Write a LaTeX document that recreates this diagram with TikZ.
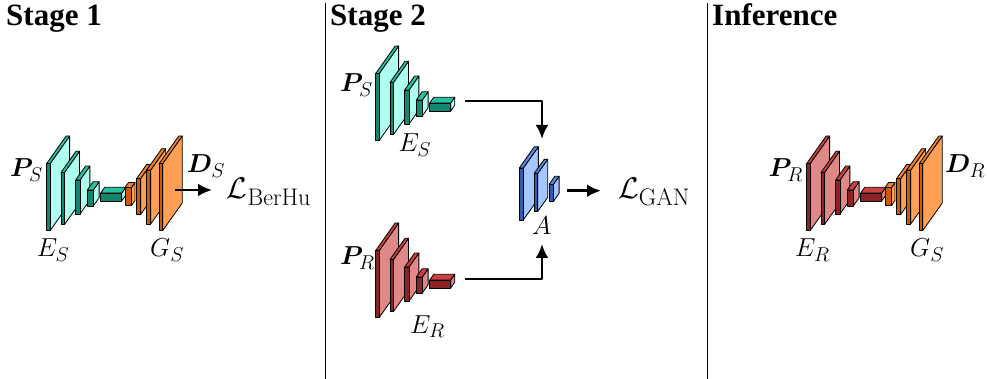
\RequirePackage{fix-cm}
\documentclass[tikz,border=0pt]{standalone}
\usepackage[no-math]{fontspec}
\usepackage{bm}
\usetikzlibrary{arrows.meta}

\newfontfamily\headfont{Liberation Serif}
\DeclareMathSizes{26}{26}{20}{15}
\DeclareMathSizes{30}{30}{24}{18}

% one feature map: x, y centre, width, height, depth, colour prefix
\newcommand{\fmap}[6]{%
  \filldraw[box, fill=#6Light] (#1+#3,#2-#4/2) -- ++(0,#4) -- ++(0.29*#5,-0.41*#5) -- ++(0,-#4) -- cycle;
  \filldraw[box, fill=#6Mid] (#1,#2-#4/2) -- ++(#3,0) -- ++(0.29*#5,-0.41*#5) -- ++(-#3,0) -- cycle;
  \filldraw[box, fill=#6Dark] (#1,#2-#4/2) rectangle ++(#3,#4);
}
% encoder and decoder stacks
\newcommand{\encoder}[1]{%
  \foreach \x/\yc/\w/\h/\d in {46.7/197/3.5/67/67, 61/198.5/3.5/52/52, 75.7/197/4.3/34/34,
                               87.3/198/6/16/20, 100.7/197/21/8/14}
    {\fmap{\x}{\yc}{\w}{\h}{\d}{#1}}
}
\newcommand{\decoder}[1]{%
  \foreach \x/\yc/\w/\h/\d in {125/196.5/6.5/18/12, 136.7/196.5/4/36/34,
                               146.7/197/4/54/52, 159.3/197/3.5/67/67}
    {\fmap{\x}{\yc}{\w}{\h}{\d}{#1}}
}

\begin{document}
\begin{tikzpicture}[x=1pt, y=-1pt, line join=round,
    box/.style={draw=black, line width=0.8pt},
    lbl/.style={inner sep=0pt, anchor=base west, font=\fontsize{26}{30}\selectfont},
    loss/.style={inner sep=0pt, anchor=base west, font=\fontsize{30}{34}\selectfont},
    head/.style={inner sep=0pt, anchor=base west, font=\headfont\bfseries\fontsize{31}{36}\selectfont},
    flow/.style={line width=2.8pt, -{Latex[length=14pt, width=13pt]}}]

    % Colours of the blocks
    \definecolor{synLight}{HTML}{AEFFEF}
    \definecolor{synMid}{HTML}{24C4A2}
    \definecolor{synDark}{HTML}{12866E}
    \definecolor{realLight}{HTML}{DE8888}
    \definecolor{realMid}{HTML}{CC4040}
    \definecolor{realDark}{HTML}{8A2424}
    \definecolor{decLight}{HTML}{FFA055}
    \definecolor{decMid}{HTML}{F07F2A}
    \definecolor{decDark}{HTML}{CC5A06}
    \definecolor{discLight}{HTML}{A6C6FF}
    \definecolor{discMid}{HTML}{548AE4}
    \definecolor{discDark}{HTML}{2E5EB2}

    \useasboundingbox (0,0) rectangle (987,379);

    % Panel dividers
    \draw[line width=1pt] (325,3) -- (325,379);
    \draw[line width=1pt] (707,3) -- (707,379);

    % Headings
    \node[head] (stageOne) at (6,26) {Stage 1};
    \node[head] (stageTwo) at (330,26) {Stage 2};
    \node[head] (infer) at (712,26) {Inference};

    %%% Stage 1
    \encoder{syn}
    \decoder{dec}
    \node[lbl] (pS) at (10,176.7) {$\bm{P}_S$};
    \node[lbl] (eS) at (36.7,256.5) {$E_S$};
    \node[lbl] (gS) at (150,256.5) {$G_S$};
    \node[lbl] (dS) at (186.7,173) {$\bm{D}_S$};
    \node[loss] (berhu) at (226.7,199) {$\mathcal{L}_{\mathrm{BerHu}}$};
    \coordinate (gSOut) at (175,190);
    \coordinate (berhuIn) at (212,190);
    \draw[flow] (gSOut) -- (berhuIn);

    %%% Stage 2
    \begin{scope}[shift={(329,-90)}]
        \encoder{syn}
    \end{scope}
    \begin{scope}[shift={(329,87)}]
        \encoder{real}
    \end{scope}
    % discriminator
    \foreach \x/\yc/\w/\h/\d in {519.3/194/4/52/52, 534.3/192.3/3.5/38/34, 549/193/4.3/17/20}
        {\fmap{\x}{\yc}{\w}{\h}{\d}{disc}}
    \node[lbl] (pS2) at (340,91.7) {$\bm{P}_S$};
    \node[lbl] (eS2) at (398.3,151.7) {$E_S$};
    \node[lbl] (pR2) at (340,265) {$\bm{P}_R$};
    \node[lbl] (eR2) at (410,333) {$E_R$};
    \node[lbl, anchor=base] (aLbl) at (541.7,235) {$A$};
    \node[loss] (gan) at (618,199) {$\mathcal{L}_{\mathrm{GAN}}$};
    \coordinate (eSOut) at (465,101);
    \coordinate (eROut) at (465,279);
    \coordinate (aTop) at (542,139);
    \coordinate (aBottom) at (542,244);
    \coordinate (aOut) at (567,190.7);
    \coordinate (ganIn) at (601,190.7);
    \draw[flow] (eSOut) -| (aTop);
    \draw[flow] (eROut) -| (aBottom);
    \draw[flow] (aOut) -- (ganIn);

    %%% Inference
    \begin{scope}[shift={(760,0)}]
        \encoder{real}
        \decoder{dec}
    \end{scope}
    \node[lbl] (pR) at (768.3,176.7) {$\bm{P}_R$};
    \node[lbl] (eR) at (795,256.7) {$E_R$};
    \node[lbl] (gS3) at (910,257) {$G_S$};
    \node[lbl] (dR) at (945,173) {$\bm{D}_R$};

\end{tikzpicture}
\end{document}
